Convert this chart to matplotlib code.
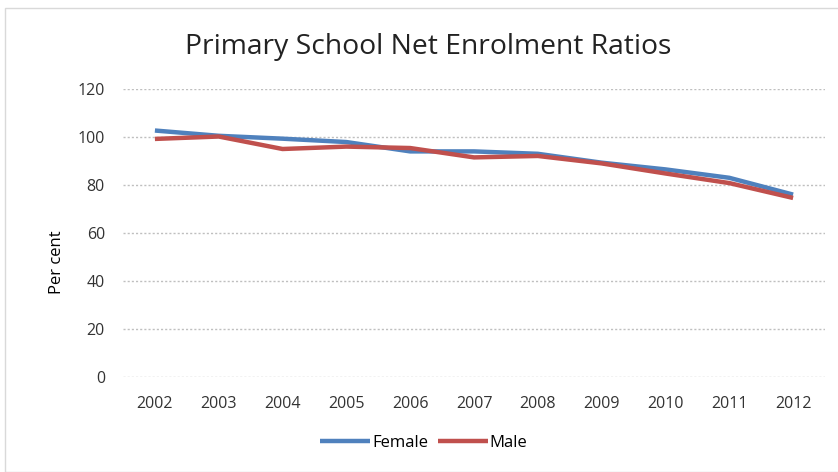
import matplotlib
matplotlib.use("Agg")
import matplotlib.pyplot as plt
from matplotlib.patches import Rectangle

years = ["2002", "2003", "2004", "2005", "2006", "2007",
         "2008", "2009", "2010", "2011", "2012"]
female = [102.7, 100.5, 99.3, 97.9, 94.0, 94.0, 93.0, 89.3, 86.5, 83.0, 76.0]
male = [99.2, 100.2, 95.0, 96.0, 95.4, 91.5, 92.1, 89.0, 84.8, 80.8, 74.6]
y_ticks = [0, 20, 40, 60, 80, 100, 120]

plt.rcParams["font.family"] = ["Open Sans", "DejaVu Sans"]

fig = plt.figure(figsize=(8.38, 4.72), dpi=100)
ax = fig.add_axes([123 / 838, 1 - 377 / 472, (825 - 123) / 838, (377 - 89) / 472])

# chart frame like the spreadsheet export
fig.patches.append(Rectangle((5 / 838, 0), 1, 1 - 8 / 472, transform=fig.transFigure,
                             fill=False, edgecolor="#d9d9d9", linewidth=1))

x = list(range(len(years)))
ax.plot(x, female, color="#4f81bd", linewidth=3.2, label="Female", solid_capstyle="butt")
ax.plot(x, male, color="#c0504d", linewidth=3.2, label="Male", solid_capstyle="butt")

ax.set_xlim(-0.5, len(years) - 0.5)
ax.set_ylim(0, 120)
ax.set_xticks(x)
ax.set_xticklabels(years, fontsize=11.5, color="#333333")
ax.set_yticks(y_ticks)
ax.set_yticklabels([str(v) for v in y_ticks], fontsize=11.5, color="#333333")
ax.tick_params(length=0, pad=13)
ax.tick_params(axis="x", pad=14)

for v in y_ticks:
    ax.axhline(v, color="#bfbfbf", linewidth=1, linestyle=(0, (1.5, 1.5)), zorder=0)
for s in ax.spines.values():
    s.set_visible(False)

ax.set_ylabel("Per cent", fontsize=12)
ax.yaxis.set_label_coords(-0.083, 0.4)
fig.text(428 / 838, 1 - 47 / 472, "Primary School Net Enrolment Ratios",
         fontsize=20.3, ha="center", va="center", color="#222222")

ax.legend(loc="center", bbox_to_anchor=(424 / 838, 1 - 443 / 472),
          bbox_transform=fig.transFigure, ncol=2, frameon=False,
          fontsize=12, handlelength=3.0, handletextpad=0.1, columnspacing=0.6)

fig.savefig("out.png", dpi=100)
